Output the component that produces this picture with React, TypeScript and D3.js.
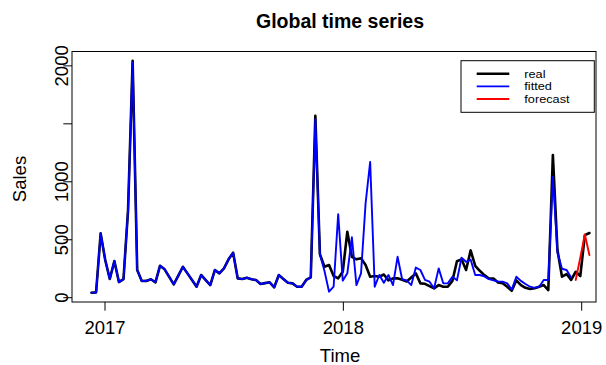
import React from 'react';
import * as d3 from 'd3';

// weekly series: first observation time (decimal year) and weekly step
const startTime = 2016.9434;
const weekStep = 7 / 365.25;

const realSales = [
  43, 46, 555, 325, 161, 316, 135, 161, 756, 2044,
  239, 144, 145, 159, 133, 276, 245, 180, 115, 190,
  267, 210, 152, 95, 196, 152, 109, 239, 210, 253,
  331, 388, 167, 161, 172, 160, 152, 118, 126, 133,
  90, 196, 162, 129, 124, 95, 95, 153, 176, 1569,
  375, 267, 282, 187, 167, 224, 569, 353, 331, 340,
  282, 181, 187, 181, 200, 150, 167, 167, 155, 140,
  175, 210, 124, 120, 100, 81, 109, 95, 95, 145,
  315, 331, 239, 408, 275, 232, 195, 165, 165, 132,
  125, 95, 60, 150, 109, 85, 75, 81, 95, 109,
  66, 1230, 411, 181, 204, 153, 224, 187, 540, 558,
];

const fittedSales = [
  43, 46, 555, 325, 161, 316, 135, 161, 756, 2030,
  239, 144, 145, 159, 133, 276, 245, 180, 115, 190,
  267, 210, 152, 95, 196, 152, 109, 239, 210, 253,
  331, 388, 167, 161, 172, 160, 152, 118, 126, 133,
  90, 196, 162, 129, 124, 95, 95, 153, 176, 1540,
  375, 230, 52, 95, 721, 147, 210, 521, 109, 210,
  814, 1172, 95, 196, 129, 196, 109, 353, 159, 150,
  109, 260, 239, 153, 138, 81, 253, 124, 124, 180,
  150, 345, 310, 328, 196, 196, 184, 160, 150, 140,
  138, 124, 70, 181, 145, 118, 95, 85, 95, 153,
  153, 1043, 390, 250, 239, 175,
];

const forecastStartIndex = 106;
const forecastSales = [153, 345, 545, 368];

const yTicks = [0, 500, 1000, 1500, 2000];
const yTickLabels = ['0', '500', '1000', '', '2000'];
const xTicks = [2017, 2018, 2019];
const xTickLabels = ['2017', '2018', '2019'];
const legendLabels = ['real', 'fitted', 'forecast'];
const legendColors = ['#000000', '#0000ff', '#ff0000'];
const legendWidths = [2.6, 1.9, 1.9];

const FONT = '"Liberation Sans", Arial, Helvetica, sans-serif';

export default function App() {
  const W = 606;
  const H = 365;
  const left = 72;
  const right = 596;
  const top = 51.5;
  const bottom = 302;

  const x = d3.scaleLinear().domain([2016.8615, 2019.06]).range([left, right]);
  const y = d3.scaleLinear().domain([-37, 2124]).range([bottom, top]);

  type P = [number, number];
  const realPts: P[] = realSales.map((v, i) => [startTime + i * weekStep, v]);
  const fittedPts: P[] = fittedSales.map((v, i) => [startTime + i * weekStep, v]);
  const forecastPts: P[] = forecastSales.map((v, i) => [startTime + (forecastStartIndex + i) * weekStep, v]);

  const line = d3
    .line<P>()
    .x((d) => x(d[0]))
    .y((d) => y(d[1]));

  const lg = { x0: 461, x1: 594.3, y0: 60.7, y1: 112.3 };
  const rows = [73.8, 86.4, 99];

  return (
    <svg
      width={W}
      height={H}
      style={{ position: 'absolute', left: 0, top: 0, background: '#fff' }}
      fontFamily={FONT}
    >
      <rect x={0} y={0} width={W} height={H} fill="#fff" />
      {/* title */}
      <text x={340} y={27.5} textAnchor="middle" fontSize={19.5} fontWeight="bold">
        Global time series
      </text>

      {/* data lines */}
      <path d={line(realPts) || ''} fill="none" stroke="#000" strokeWidth={2.6} strokeLinejoin="round" strokeLinecap="round" />
      <path d={line(fittedPts) || ''} fill="none" stroke="#0000ff" strokeWidth={1.9} strokeLinejoin="round" strokeLinecap="round" />
      <path d={line(forecastPts) || ''} fill="none" stroke="#ff0000" strokeWidth={1.9} strokeLinejoin="round" strokeLinecap="round" />

      {/* box */}
      <rect x={left} y={top} width={right - left} height={bottom - top} fill="none" stroke="#000" strokeWidth={1} />

      {/* y axis */}
      {yTicks.map((t, i) => (
        <g key={'y' + t}>
          <line x1={left - 8.7} x2={left} y1={y(t)} y2={y(t)} stroke="#000" strokeWidth={1} />
          {yTickLabels[i] && (
            <text
              transform={`translate(67.5,${y(t)}) rotate(-90)`}
              textAnchor="middle"
              fontSize={18.5}
            >
              {yTickLabels[i]}
            </text>
          )}
        </g>
      ))}

      {/* x axis */}
      {xTicks.map((t, i) => (
        <g key={'x' + t}>
          <line x1={x(t)} x2={x(t)} y1={bottom} y2={bottom + 8.7} stroke="#000" strokeWidth={1} />
          <text x={x(t)} y={334} textAnchor="middle" fontSize={18.5}>
            {xTickLabels[i]}
          </text>
        </g>
      ))}

      {/* axis titles */}
      <text x={340} y={362} textAnchor="middle" fontSize={18.5}>
        Time
      </text>
      <text transform={`translate(25.5,179) rotate(-90)`} textAnchor="middle" fontSize={18.5}>
        Sales
      </text>

      {/* legend */}
      <rect x={lg.x0} y={lg.y0} width={lg.x1 - lg.x0} height={lg.y1 - lg.y0} fill="#fff" stroke="#000" strokeWidth={1} />
      {legendLabels.map((l, i) => (
        <g key={l}>
          <line x1={476.7} x2={509.3} y1={rows[i]} y2={rows[i]} stroke={legendColors[i]} strokeWidth={legendWidths[i]} />
          <text transform={`translate(524.3,${rows[i] + 4}) scale(1.18,1)`} fontSize={10.8}>
            {l}
          </text>
        </g>
      ))}
    </svg>
  );
}
